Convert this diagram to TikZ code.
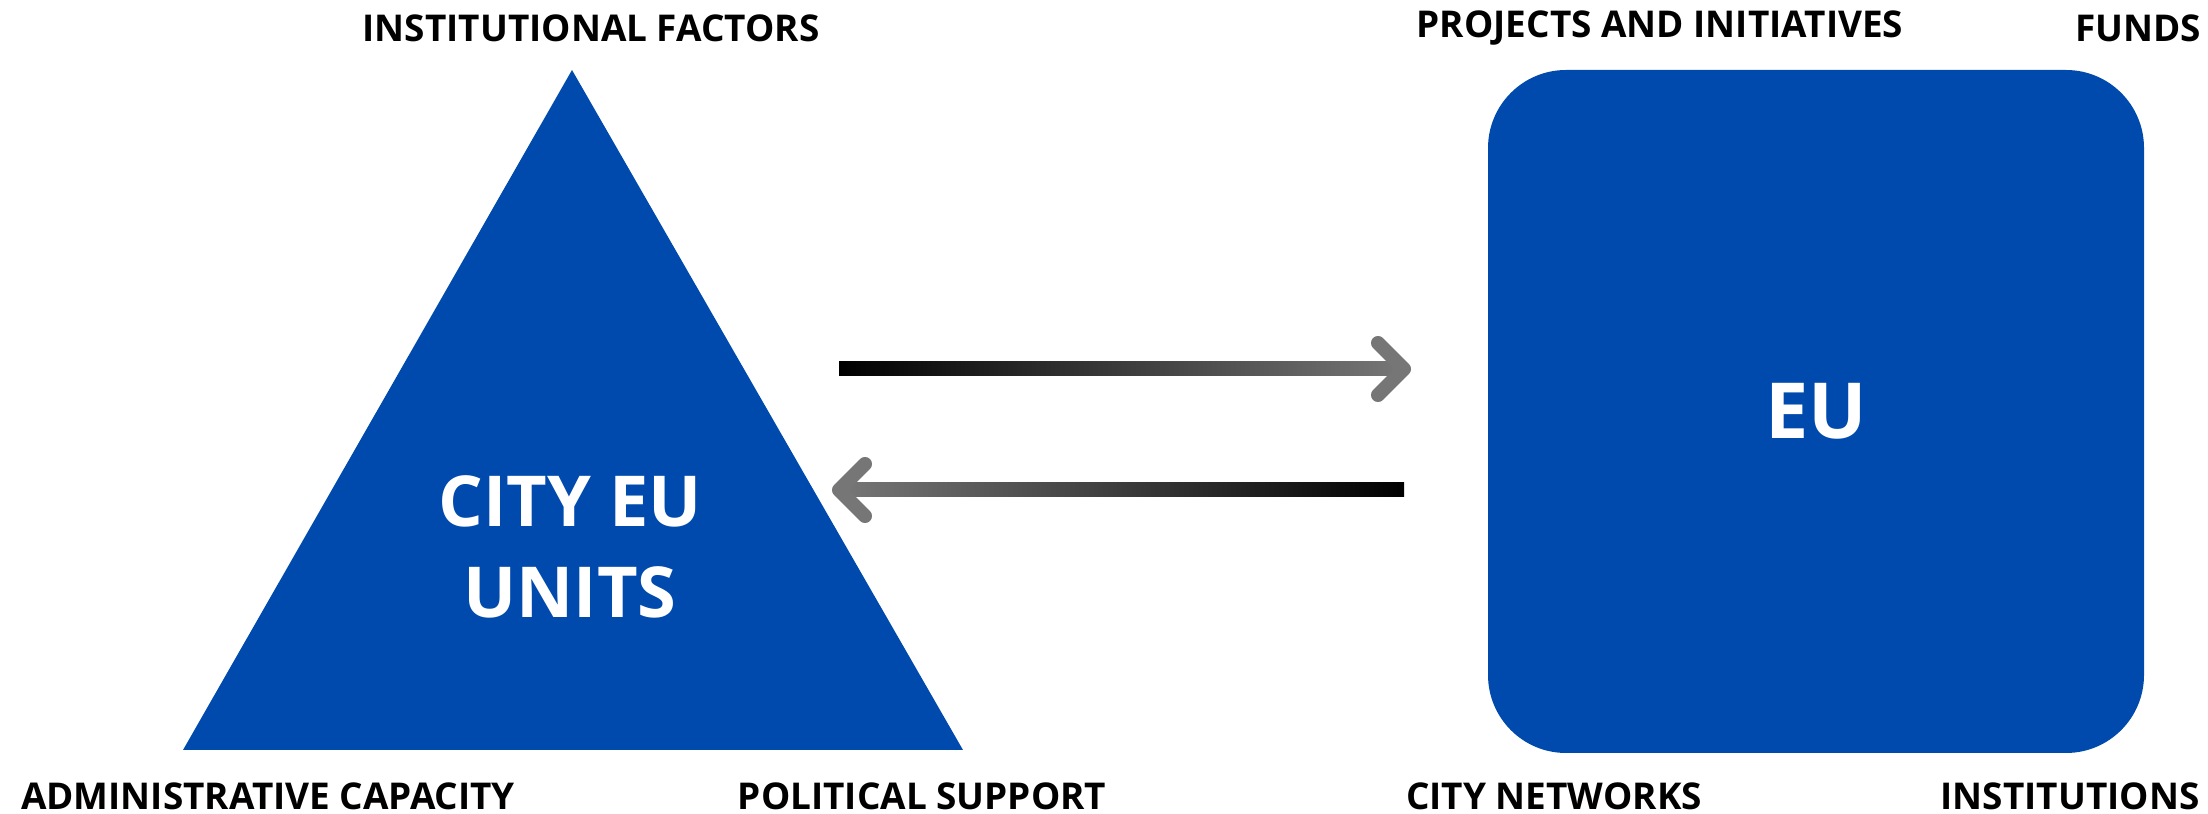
\documentclass[tikz,border=0pt]{standalone}
\usepackage{fontspec}
\setmainfont{Open Sans}
\usetikzlibrary{calc, positioning}
\definecolor{eublue}{RGB}{0,74,173}
\definecolor{tipgrey}{RGB}{118,118,118}
\tikzset{
  tag/.style={font=\fontsize{10.5}{12}\selectfont\bfseries, text=black, inner sep=0pt},
  bigtext/.style={font=\fontsize{20}{26}\selectfont\bfseries, text=white, align=center, inner sep=0pt},
  eubox/.style={rectangle, fill=eublue, rounded corners=0.78cm,
    minimum width=6.56cm, minimum height=6.83cm, text=white,
    font=\fontsize{22}{26}\selectfont\bfseries},
  chevron/.style={tipgrey, line width=4pt, line cap=round, line join=round}
}

\begin{document}
\begin{tikzpicture}
  \useasboundingbox (0,0) rectangle (22.08,8.14);

  % city side
  \coordinate (apex) at (5.72,7.44);
  \coordinate (baseL) at (1.83,0.64);
  \coordinate (baseR) at (9.63,0.64);
  \fill[eublue] (apex) -- (baseR) -- (baseL) -- cycle;
  \node[bigtext] (city) at (5.70,2.67) {CITY EU\\UNITS};

  % eu side
  \node[eubox] (eu) at (18.16,4.025) {EU};

  % labels
  \node[tag] (instfac) at (5.91,7.86) {INSTITUTIONAL FACTORS};
  \node[tag] (admcap) at (2.68,0.18) {ADMINISTRATIVE CAPACITY};
  \node[tag] (polsup) at (9.22,0.18) {POLITICAL SUPPORT};
  \node[tag] (projects) at (16.60,7.86) {PROJECTS AND INITIATIVES};
  \node[tag] (funds) at (21.38,7.86) {FUNDS};
  \node[tag] (citynet) at (15.54,0.18) {CITY NETWORKS};
  \node[tag] (institutions) at (20.70,0.18) {INSTITUTIONS};

  % arrows in both directions
  \coordinate (out1) at (8.39,4.45);
  \coordinate (in1) at (14.04,4.45);
  \coordinate (out2) at (14.04,3.24);
  \coordinate (in2) at (8.39,3.24);
  \shade[left color=black, right color=tipgrey] ($(out1)+(0,-0.07)$) rectangle ($(in1)+(-0.05,0.07)$);
  \draw[chevron] ($(in1)+(-0.26,0.26)$) -- (in1) -- ($(in1)+(-0.26,-0.26)$);
  \shade[left color=tipgrey, right color=black] ($(in2)+(0.05,-0.07)$) rectangle ($(out2)+(0,0.07)$);
  \draw[chevron] ($(in2)+(0.26,0.26)$) -- (in2) -- ($(in2)+(0.26,-0.26)$);
\end{tikzpicture}
\end{document}
